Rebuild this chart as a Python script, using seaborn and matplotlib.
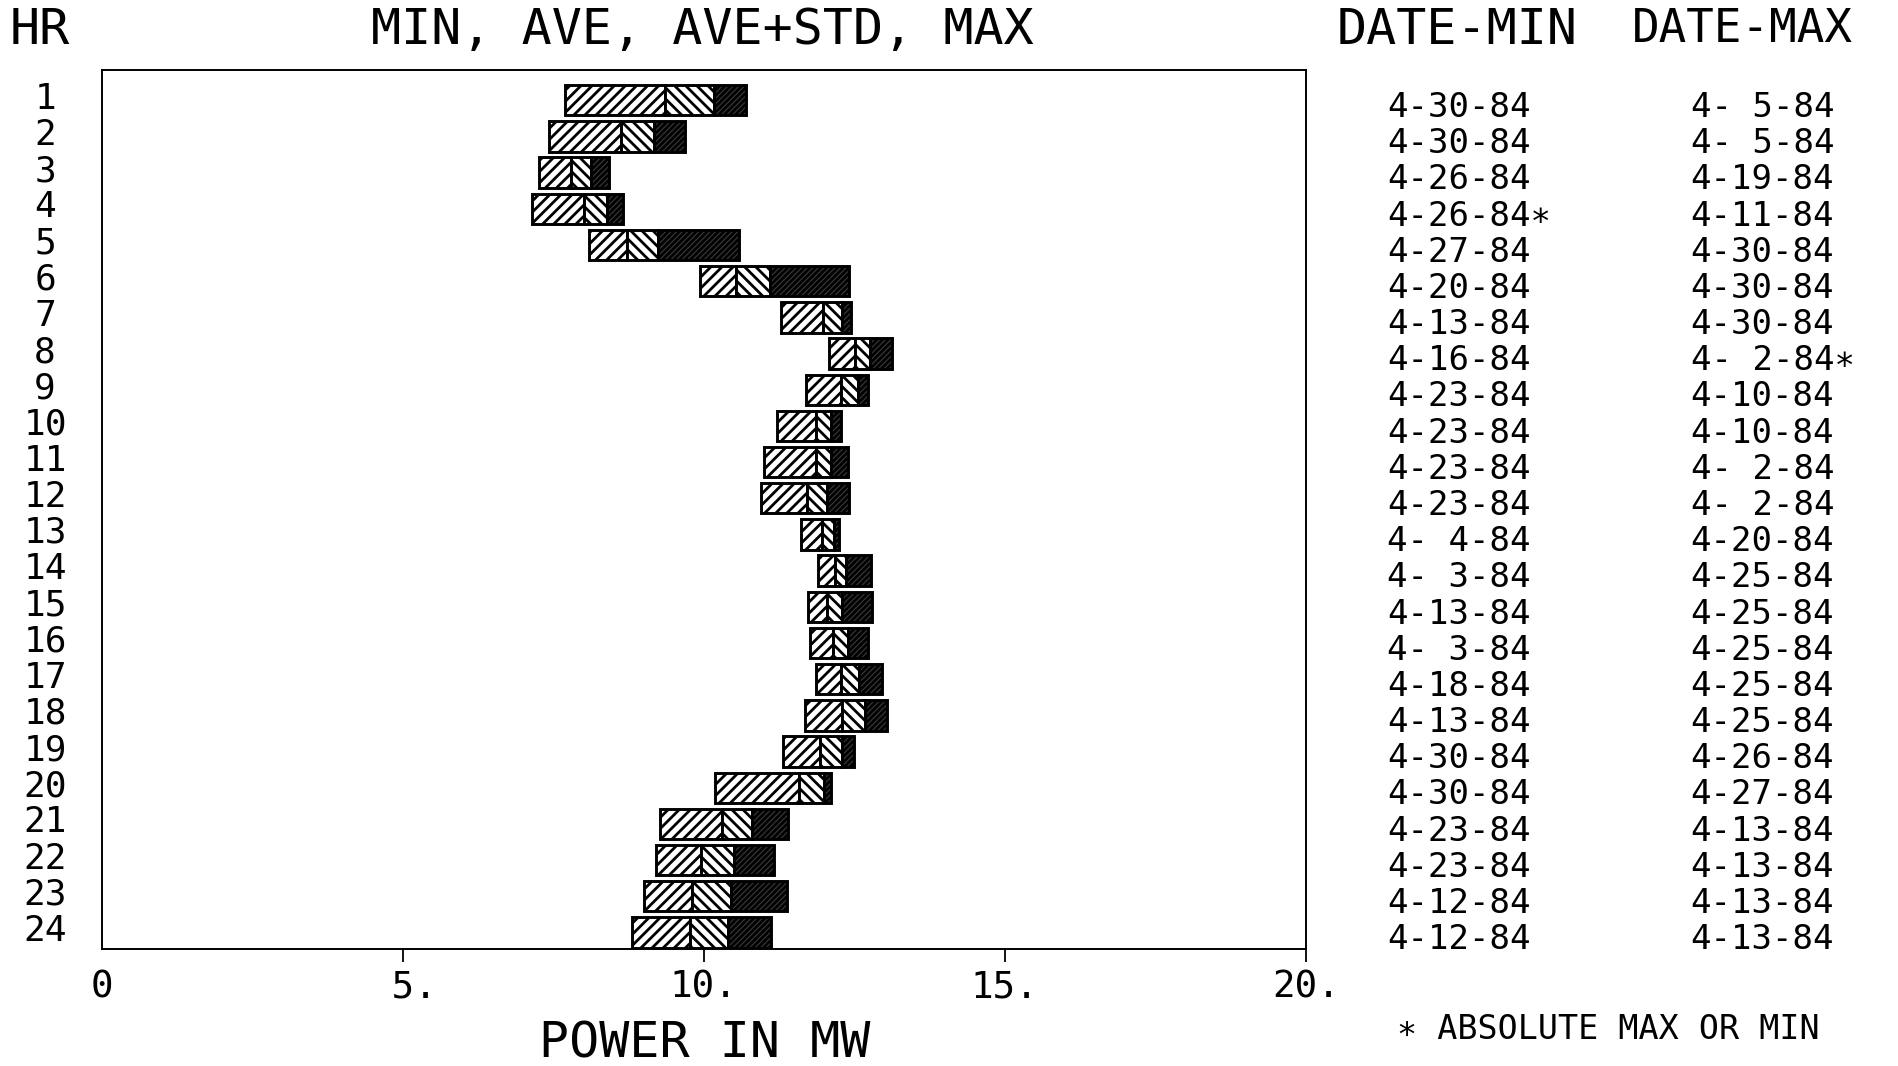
import matplotlib
matplotlib.use("Agg")
import matplotlib.pyplot as plt
import matplotlib.transforms as mtransforms
import numpy as np
import pandas as pd
import seaborn as sns

# Hourly load statistics (MW)
hours = [str(h) for h in range(1, 25)]
p_min = [7.69, 7.43, 7.27, 7.15, 8.10, 9.94, 11.29, 12.08, 11.69, 11.21, 11.00, 10.95,
         11.61, 11.89, 11.73, 11.76, 11.87, 11.68, 11.32, 10.18, 9.28, 9.20, 9.00, 8.81]
p_ave = [9.36, 8.62, 7.80, 8.01, 8.73, 10.54, 11.98, 12.51, 12.28, 11.86, 11.86, 11.72,
         11.96, 12.18, 12.05, 12.15, 12.28, 12.29, 11.93, 11.58, 10.30, 9.95, 9.81, 9.77]
p_ave_std = [10.17, 9.17, 8.13, 8.39, 9.24, 11.10, 12.29, 12.76, 12.57, 12.12, 12.12, 12.04,
             12.17, 12.37, 12.30, 12.40, 12.58, 12.68, 12.29, 12.00, 10.80, 10.50, 10.46, 10.40]
p_max = [10.70, 9.68, 8.42, 8.66, 10.58, 12.41, 12.45, 13.12, 12.73, 12.28, 12.39, 12.42,
         12.25, 12.77, 12.80, 12.72, 12.96, 13.05, 12.50, 12.12, 11.40, 11.17, 11.38, 11.12]

date_min = ["4-30-84", "4-30-84", "4-26-84", "4-26-84", "4-27-84", "4-20-84",
            "4-13-84", "4-16-84", "4-23-84", "4-23-84", "4-23-84", "4-23-84",
            "4- 4-84", "4- 3-84", "4-13-84", "4- 3-84", "4-18-84", "4-13-84",
            "4-30-84", "4-30-84", "4-23-84", "4-23-84", "4-12-84", "4-12-84"]
date_max = ["4- 5-84", "4- 5-84", "4-19-84", "4-11-84", "4-30-84", "4-30-84",
            "4-30-84", "4- 2-84", "4-10-84", "4-10-84", "4- 2-84", "4- 2-84",
            "4-20-84", "4-25-84", "4-25-84", "4-25-84", "4-25-84", "4-25-84",
            "4-26-84", "4-27-84", "4-13-84", "4-13-84", "4-13-84", "4-13-84"]
abs_min_hour = "4"
abs_max_hour = "8"

x_ticks = [0, 5, 10, 15, 20]
x_tick_labels = ["0", " 5.", "10.", "15.", "20."]

sns.set_theme(style="white")
plt.rcParams["font.family"] = ["DejaVu Sans Mono", "DejaVu Sans"]
plt.rcParams["hatch.linewidth"] = 2.0
plt.rcParams["text.color"] = "black"

df = pd.DataFrame({"hour": hours, "lo": p_min, "ave": p_ave,
                   "hi": p_ave_std, "top": p_max})

fig = plt.figure(figsize=(18.99, 10.66), dpi=100)
ax = fig.add_axes([0.0536, 0.1093, 0.634, 0.825])

segments = [
    ("lo", "ave", dict(color="white", hatch="///")),
    ("ave", "hi", dict(color="white", hatch="\\\\\\")),
    ("hi", "top", dict(color="#3a3a3a", hatch="//////")),
]
for start, end, style in segments:
    sns.barplot(x=df[end] - df[start], y=df["hour"], orient="h",
                left=df[start].to_numpy(), width=0.84, errorbar=None,
                saturation=1, edgecolor="black", linewidth=2.1, ax=ax, **style)

ax.set_xlim(0, 20)
ax.set_ylim(23.47, -0.835)
ax.set_xlabel("")
ax.set_ylabel("")

ax.set_xticks(x_ticks, labels=x_tick_labels)
ax.tick_params(axis="x", length=9.4, width=1.3, direction="out", pad=5,
               labelsize=27, bottom=True, colors="black")
ax.xaxis.get_major_ticks()[0].tick1line.set_visible(False)

ax.set_yticks(range(len(hours)), labels=hours, ha="center")
ax.tick_params(axis="y", length=0, pad=40.8, labelsize=26, left=True, colors="black")
lift = mtransforms.ScaledTranslation(0, 0.05, fig.dpi_scale_trans)
for lbl in ax.get_yticklabels():
    lbl.set_transform(lbl.get_transform() + lift)

for side in ["top", "bottom", "left", "right"]:
    ax.spines[side].set_visible(True)
    ax.spines[side].set_color("black")
    ax.spines[side].set_linewidth(1.4)

# Headers
fig.text(0.021, 0.972, "HR", ha="center", va="center", fontsize=36)
fig.text(0.3698, 0.972, "MIN, AVE, AVE+STD, MAX", ha="center", va="center", fontsize=36)
fig.text(0.7675, 0.972, "DATE-MIN", ha="center", va="center", fontsize=36)
fig.text(0.9174, 0.972, "DATE-MAX", ha="center", va="center", fontsize=33)

# Date columns aligned with each hour row
row_tr = mtransforms.blended_transform_factory(fig.transFigure, ax.transData)
star = "\u2217"
for i, h in enumerate(hours):
    dmin = date_min[i] + (star if h == abs_min_hour else "")
    dmax = date_max[i] + (star if h == abs_max_hour else "")
    ax.text(0.7304, i + 0.2, dmin, transform=row_tr, ha="left", va="center",
            fontsize=24.5, clip_on=False)
    ax.text(0.8903, i + 0.2, dmax, transform=row_tr, ha="left", va="center",
            fontsize=24.5, clip_on=False)

fig.text(0.3713, 0.021, "POWER IN MW", ha="center", va="center", fontsize=36)
fig.text(0.847, 0.0347, star + " ABSOLUTE MAX OR MIN", ha="center", va="center", fontsize=24)

fig.savefig("out.png", dpi=100, facecolor="white")
